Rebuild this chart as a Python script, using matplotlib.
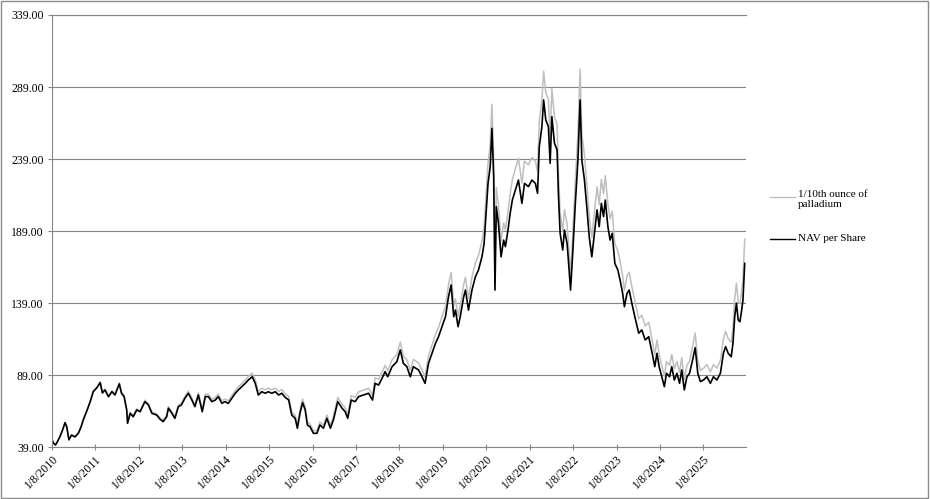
import matplotlib
matplotlib.use("Agg")
import matplotlib.pyplot as plt
from matplotlib.lines import Line2D
from matplotlib.patches import Rectangle

plt.rcParams['font.family'] = ['Liberation Serif', 'DejaVu Serif']

# time as decimal years
t = [2010.02, 2010.06, 2010.10, 2010.15, 2010.20, 2010.26, 2010.32, 2010.36, 2010.41, 2010.47,
     2010.55, 2010.63, 2010.69, 2010.74, 2010.83, 2010.90, 2010.97, 2011.05, 2011.13, 2011.18,
     2011.24, 2011.32, 2011.40, 2011.47, 2011.57, 2011.62, 2011.68, 2011.74, 2011.76, 2011.82,
     2011.89, 2011.97, 2012.05, 2012.16, 2012.24, 2012.32, 2012.43, 2012.51, 2012.58, 2012.66,
     2012.70, 2012.78, 2012.85, 2012.93, 2013.00, 2013.08, 2013.16, 2013.24, 2013.31, 2013.39,
     2013.48, 2013.55, 2013.62, 2013.70, 2013.78, 2013.85, 2013.93, 2014.00, 2014.08, 2014.16,
     2014.24, 2014.31, 2014.39, 2014.47, 2014.54, 2014.63, 2014.70, 2014.77, 2014.85, 2014.93,
     2015.00, 2015.08, 2015.16, 2015.24, 2015.31, 2015.39, 2015.47, 2015.54, 2015.62, 2015.67,
     2015.73, 2015.79, 2015.85, 2015.90, 2015.96, 2016.04, 2016.12, 2016.19, 2016.27, 2016.35,
     2016.43, 2016.50, 2016.60, 2016.70, 2016.77, 2016.83, 2016.91, 2017.00, 2017.08, 2017.19,
     2017.31, 2017.40, 2017.46, 2017.54, 2017.62, 2017.69, 2017.75, 2017.85, 2017.96, 2018.04,
     2018.11, 2018.19, 2018.27, 2018.34, 2018.46, 2018.54, 2018.61, 2018.69, 2018.77, 2018.85,
     2018.92, 2019.00, 2019.08, 2019.15, 2019.21, 2019.27, 2019.31, 2019.37, 2019.42, 2019.50,
     2019.54, 2019.61, 2019.69, 2019.77, 2019.84, 2019.92, 2019.97, 2020.01, 2020.06, 2020.11,
     2020.15, 2020.19, 2020.22, 2020.25, 2020.30, 2020.36, 2020.42, 2020.46, 2020.52, 2020.57,
     2020.62, 2020.69, 2020.76, 2020.84, 2020.90, 2020.99, 2021.07, 2021.15, 2021.20, 2021.24,
     2021.30, 2021.34, 2021.39, 2021.45, 2021.49, 2021.53, 2021.59, 2021.65, 2021.68, 2021.72,
     2021.78, 2021.82, 2021.88, 2021.91, 2021.96, 2022.01, 2022.07, 2022.13, 2022.18, 2022.22,
     2022.28, 2022.34, 2022.39, 2022.45, 2022.51, 2022.57, 2022.62, 2022.67, 2022.72, 2022.76,
     2022.82, 2022.87, 2022.92, 2022.98, 2023.05, 2023.10, 2023.16, 2023.20, 2023.26, 2023.31,
     2023.37, 2023.44, 2023.53, 2023.60, 2023.68, 2023.76, 2023.84, 2023.90, 2023.95, 2024.00,
     2024.06, 2024.12, 2024.17, 2024.24, 2024.29, 2024.35, 2024.41, 2024.47, 2024.52, 2024.58,
     2024.64, 2024.70, 2024.77, 2024.83, 2024.89, 2024.95, 2025.02, 2025.10, 2025.18, 2025.25,
     2025.33, 2025.41, 2025.48, 2025.53, 2025.59, 2025.66, 2025.70, 2025.74, 2025.78, 2025.82,
     2025.86, 2025.89, 2025.93, 2025.97]

nav = [44.0, 41.5, 40.4, 43.0, 46.0, 50.5, 55.9, 53.0, 44.0, 47.3,
       46.0, 48.7, 53.0, 57.8, 64.7, 70.5, 77.4, 80.0, 83.7, 76.5,
       78.6, 73.9, 77.4, 75.1, 82.8, 76.3, 74.0, 64.7, 55.5, 62.4,
       60.0, 64.7, 63.5, 70.5, 68.2, 62.4, 61.2, 58.2, 56.6, 60.0,
       65.9, 62.4, 58.9, 67.0, 68.2, 72.8, 76.3, 71.6, 67.0, 75.1,
       63.5, 74.0, 74.0, 70.5, 71.6, 74.0, 69.3, 70.5, 69.3, 72.8,
       76.3, 78.6, 80.9, 83.2, 85.5, 87.8, 83.2, 75.1, 77.4, 76.3,
       77.4, 76.3, 77.4, 75.1, 76.3, 73.5, 71.6, 61.2, 58.9, 52.0,
       62.4, 69.8, 64.7, 54.3, 53.1, 48.5, 48.5, 54.3, 52.0, 58.9,
       52.0, 57.8, 70.5, 65.9, 63.5, 58.9, 71.6, 70.5, 74.0, 75.1,
       76.3, 71.6, 83.2, 82.0, 86.7, 91.3, 87.8, 94.8, 98.2, 106.4,
       97.1, 94.8, 87.8, 94.8, 92.5, 87.8, 83.2, 97.1, 104.1, 111.0,
       115.6, 122.5, 129.5, 143.4, 151.5, 129.5, 134.1, 122.5, 129.5, 143.4,
       148.0, 134.1, 148.0, 157.3, 161.9, 171.1, 180.4, 198.9, 222.1, 233.7,
       260.3, 226.7, 148.0, 205.9, 194.3, 171.1, 182.7, 178.1, 189.7, 201.3,
       210.5, 217.5, 224.4, 208.2, 222.1, 219.8, 224.4, 222.1, 215.2, 247.5,
       261.4, 280.0, 266.1, 261.4, 236.0, 268.4, 249.9, 245.2, 215.2, 187.4,
       175.8, 189.7, 180.4, 168.9, 148.0, 173.5, 208.2, 238.3, 280.0, 238.3,
       224.4, 203.6, 185.0, 171.1, 187.4, 203.6, 192.0, 208.2, 199.0, 210.5,
       192.0, 182.7, 187.4, 166.5, 161.9, 155.0, 145.7, 136.4, 145.7, 148.0,
       139.0, 129.5, 118.0, 120.3, 113.3, 115.6, 104.1, 94.8, 104.1, 94.8,
       87.8, 80.9, 90.2, 87.8, 94.8, 85.5, 90.2, 83.2, 92.5, 78.6,
       87.8, 90.2, 99.4, 108.0, 90.2, 84.4, 85.5, 87.8, 83.2, 87.8,
       85.5, 90.2, 104.1, 108.7, 104.1, 101.7, 111.0, 129.5, 139.0, 127.2,
       126.0, 131.8, 141.0, 166.5]

palladium = [44.0, 41.5, 40.4, 43.0, 46.1, 50.6, 56.0, 53.1, 44.1, 47.4,
             46.2, 48.9, 53.2, 58.1, 65.0, 70.9, 77.9, 80.5, 84.3, 77.1,
             79.2, 74.5, 78.1, 75.8, 83.6, 77.1, 74.8, 65.4, 56.1, 63.1,
             60.7, 65.5, 64.3, 71.5, 69.2, 63.3, 62.1, 59.1, 57.5, 61.0,
             67.0, 63.5, 60.0, 68.2, 69.5, 74.2, 77.8, 73.1, 68.4, 76.7,
             64.9, 75.7, 75.7, 72.1, 73.3, 75.8, 71.0, 72.3, 71.1, 74.7,
             78.3, 80.7, 83.1, 85.5, 87.9, 90.4, 85.7, 77.4, 79.8, 78.7,
             79.8, 78.7, 79.9, 77.6, 78.9, 76.0, 74.1, 63.3, 61.0, 53.9,
             64.7, 72.3, 67.1, 56.3, 55.1, 50.3, 50.4, 56.4, 54.1, 61.3,
             54.1, 60.2, 73.4, 68.7, 66.2, 61.4, 74.7, 73.6, 77.3, 78.5,
             79.8, 74.9, 87.1, 85.9, 90.9, 95.7, 92.1, 99.5, 103.1, 111.8,
             102.1, 99.7, 92.4, 99.8, 97.4, 92.5, 87.7, 102.4, 109.8, 117.2,
             122.1, 129.4, 136.9, 151.7, 160.3, 137.1, 142.0, 129.7, 137.2, 152.0,
             156.9, 142.2, 157.0, 167.0, 172.0, 181.8, 191.7, 211.5, 236.2, 248.6,
             277.0, 241.3, 157.5, 219.2, 206.9, 182.3, 194.7, 189.8, 202.3, 214.7,
             224.6, 232.1, 239.6, 222.4, 237.4, 235.0, 240.0, 237.7, 230.4, 265.0,
             280.0, 300.0, 285.2, 280.2, 253.1, 287.9, 268.1, 263.2, 231.0, 201.2,
             188.8, 203.8, 193.9, 181.6, 159.1, 186.6, 224.0, 256.5, 301.5, 256.7,
             241.8, 219.4, 199.4, 184.5, 202.2, 219.7, 207.3, 224.8, 214.9, 227.4,
             207.5, 197.5, 202.7, 180.1, 175.2, 167.8, 157.8, 147.7, 157.9, 160.4,
             150.7, 140.5, 128.1, 130.6, 123.1, 125.6, 113.2, 103.1, 113.3, 103.2,
             95.6, 88.1, 98.3, 95.7, 103.3, 93.2, 98.4, 90.8, 101.0, 85.8,
             95.9, 98.6, 108.7, 118.1, 98.7, 92.3, 93.6, 96.2, 91.2, 96.2,
             93.8, 99.0, 114.3, 119.3, 114.3, 111.7, 122.0, 142.3, 152.8, 139.9,
             138.6, 145.0, 155.2, 183.3]

tick_pos = [2010.02, 2011.02, 2012.02, 2013.02, 2014.02, 2015.02, 2016.02, 2017.02,
            2018.02, 2019.02, 2020.02, 2021.02, 2022.02, 2023.02, 2024.02, 2025.02]
tick_labels = ['1/8/2010', '1/8/2011', '1/8/2012', '1/8/2013', '1/8/2014', '1/8/2015',
               '1/8/2016', '1/8/2017', '1/8/2018', '1/8/2019', '1/8/2020', '1/8/2021',
               '1/8/2022', '1/8/2023', '1/8/2024', '1/8/2025']
y_ticks = [39, 89, 139, 189, 239, 289, 339]

W, H = 930, 499
fig = plt.figure(figsize=(W / 100, H / 100), dpi=100)
ax = fig.add_axes([52 / W, 1 - 447 / H, (746 - 52) / W, (447 - 15) / H])

grid_c = '#868686'
ax.plot(t, palladium, color='#BFBFBF', lw=1.1)
ax.plot(t, nav, color='black', lw=1.2)

ax.set_xlim(2010.02, 2026.0)
ax.set_ylim(39, 339)
ax.set_yticks(y_ticks)
ax.set_yticklabels(['%.2f' % v for v in y_ticks])
ax.set_xticks(tick_pos)
ax.set_xticklabels(tick_labels, rotation=45, ha='right', va='top', rotation_mode='anchor')

ax.yaxis.grid(True, color=grid_c, lw=0.8)
ax.set_axisbelow(True)
ax.spines['right'].set_visible(False)
for s in ['left', 'bottom', 'top']:
    ax.spines[s].set_color(grid_c)
    ax.spines[s].set_linewidth(0.8)

ax.tick_params(axis='y', direction='out', length=3, color=grid_c, labelsize=8.5, pad=3)
ax.tick_params(axis='x', direction='inout', length=5, color=grid_c, labelsize=8.5, pad=2)

# legend drawn by hand (Excel style, handle on first text line)
fig.add_artist(Line2D([770 / W, 795 / W], [1 - 197 / H] * 2, color='#BFBFBF', lw=1.0))
fig.text(798 / W, 1 - 190 / H, '1/10th ounce of\npalladium', fontsize=8,
         va='top', ha='left', linespacing=1.15)
fig.add_artist(Line2D([770 / W, 795 / W], [1 - 239 / H] * 2, color='black', lw=1.0))
fig.text(798 / W, 1 - 239 / H, 'NAV per Share', fontsize=8, va='center', ha='left')

# outer chart border
fig.add_artist(Rectangle((0.5 / W, 1.5 / H), 1 - 2.5 / W, 1 - 2.5 / H,
                         transform=fig.transFigure, fill=False,
                         edgecolor='#8C8C8C', lw=1.0))

fig.savefig('out.png', dpi=100)
